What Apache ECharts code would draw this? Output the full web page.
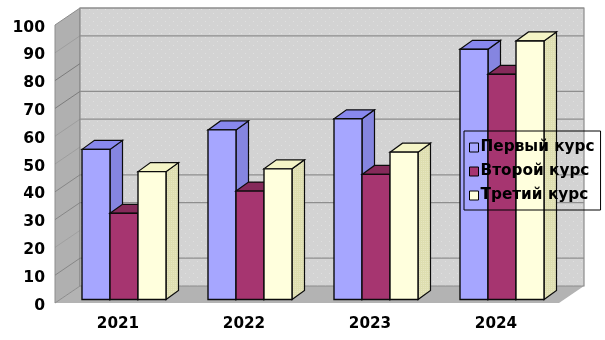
<!DOCTYPE html>
<html><head><meta charset="utf-8">
<style>html,body{margin:0;padding:0;background:#fff}#c{width:605px;height:340px}</style>
<script src="https://cdn.jsdelivr.net/npm/echarts@6/dist/echarts.min.js"></script>
</head><body><div id="c"></div>
<script>
const categories = ['2021','2022','2023','2024'];
const seriesNames = ['Первый курс','Второй курс','Третий курс'];
const first = [54,61,65,90];
const second = [31,39,45,81];
const third = [46,47,53,93];
const backLines = [100,90,70,60,40,30,10];
const sideLines = [[90,0.35],[80,1],[70,1],[60,0.35],[50,0.35],[40,0.8],[30,0.8],[20,0.3],[10,0.8]];
const fills = [
 {front:'#a6a6ff',side:'#8585e0',top:'#8888ee'},
 {front:'#a63570',side:'#852a5a',top:'#852a5a'},
 {front:'#ffffdd',side:'#dedeb0',top:'#f4f4c6'}
];

function pattern(bg,dot,step){
  const c=document.createElement('canvas');c.width=c.height=step;
  const g=c.getContext('2d');g.fillStyle=bg;g.fillRect(0,0,step,step);
  g.fillStyle=dot;g.fillRect(1,1,1,1);g.fillRect(1+step/2,1+step/2,1,1);
  return {image:c,repeat:'repeat'};
}
const wallFill=pattern('#d3d3d3','#e0e0e0',8);
const sideHatch=pattern('#dedeb0','#e6e6c0',2);
const DX=25,DY=17,BX=12.5,BY=9,INX=6,INY=3.5;

function poly(points,fill,stroke,lw,opacity){
  return {type:'polygon',shape:{points},style:{fill,stroke,lineWidth:lw,opacity:opacity==null?1:opacity}};
}
function walls(p,api){
  const band=api.size([1,0])[0];
  const L=api.coord([0,0])[0]-band/2,R=api.coord([3,0])[0]+band/2;
  const y0=api.coord([0,0])[1],y1=api.coord([0,100])[1];
  return {type:'group',children:[
    poly([[L,y0],[L+DX,y0-DY],[R+DX,y0-DY],[R,y0]],'#b3b3b3',null,0),
    poly([[L,y1],[L+DX,y1-DY],[L+DX,y0-DY],[L,y0]],'#b0b0b0','#8c8c8c',1),
    poly([[L+DX,y1-DY],[R+DX,y1-DY],[R+DX,y0-DY],[L+DX,y0-DY]],wallFill,'#8c8c8c',1.2)
  ]};
}
function backGrid(p,api){
  const band=api.size([1,0])[0];
  const L=api.coord([0,0])[0]-band/2,R=api.coord([3,0])[0]+band/2;
  const y=api.coord([0,api.value(0)])[1]-DY;
  return {type:'line',shape:{x1:L+DX,y1:y,x2:R+DX,y2:y},style:{stroke:'#8e8e8e',lineWidth:1.2}};
}
function sideGrid(p,api){
  const band=api.size([1,0])[0];
  const L=api.coord([0,0])[0]-band/2;
  const y=api.coord([0,api.value(0)])[1];
  return {type:'line',shape:{x1:L,y1:y,x2:L+DX,y2:y-DY},style:{stroke:'#7c7c7c',lineWidth:1,opacity:api.value(1)}};
}
function bar(idx){
  return function(p,api){
    const i=api.value(0),v=api.value(1);
    const band=api.size([1,0])[0],w=band*2/9;
    const c=api.coord([i,v]),b=api.coord([i,0]);
    const x=c[0]-1.5*w+idx*w+INX,yt=c[1]-INY,yb=b[1]-INY;
    const f=fills[idx],sc='#0c0c0c';
    const sideFill=idx===2?sideHatch:f.side;
    return {type:'group',children:[
      poly([[x+w,yt],[x+w+BX,yt-BY],[x+w+BX,yb-BY],[x+w,yb]],sideFill,sc,1.2),
      poly([[x,yt],[x+BX,yt-BY],[x+w+BX,yt-BY],[x+w,yt]],f.top,sc,1.2),
      poly([[x,yt],[x+w,yt],[x+w,yb],[x,yb]],f.front,sc,1.4)
    ]};
  };
}
const values=[first,second,third];
const chart=echarts.init(document.getElementById('c'),null,{renderer:'canvas'});
chart.setOption({
  animation:false,
  backgroundColor:'#fff',
  textStyle:{fontFamily:'DejaVu Sans'},
  grid:{left:55,right:46,top:25,bottom:37},
  legend:{
    data:seriesNames.map(n=>({name:n,icon:'rect'})),
    orient:'vertical',left:464,top:131,
    borderColor:'#000',borderWidth:1,backgroundColor:'transparent',
    padding:[8,6,6,5],itemWidth:9,itemHeight:9,itemGap:7,
    selectedMode:false,
    itemStyle:{borderColor:'#000',borderWidth:1},
    textStyle:{fontFamily:'DejaVu Sans',fontWeight:'bold',fontSize:15.3,color:'#000',padding:[0,0,0,-3],lineHeight:17},
    z:20
  },
  xAxis:{type:'category',data:categories,
    axisLine:{show:false},axisTick:{show:false},splitLine:{show:false},
    axisLabel:{margin:14,fontSize:15.2,fontWeight:'bold',color:'#000',fontFamily:'DejaVu Sans'}},
  yAxis:{type:'value',min:0,max:100,interval:10,
    axisLine:{show:false},axisTick:{show:false},splitLine:{show:false},
    axisLabel:{margin:10,color:'#000',fontFamily:'DejaVu Sans',
      formatter:'{a|{value}}',
      rich:{a:{fontSize:15.6,fontWeight:'bold',color:'#000',fontFamily:'DejaVu Sans',padding:[5,0,0,0]}}}},
  series:[
    {type:'custom',name:'walls',silent:true,clip:false,z:1,data:[[0,0]],renderItem:walls,encode:{x:0,y:1}},
    {type:'custom',name:'back',silent:true,clip:false,z:2,data:backLines.map(v=>[v]),renderItem:backGrid,encode:{y:0}},
    {type:'custom',name:'side',silent:true,clip:false,z:2,data:sideLines,renderItem:sideGrid,encode:{y:0}},
    ...seriesNames.map((n,k)=>({
      type:'custom',name:n,clip:false,z:3+k,
      itemStyle:{color:fills[k].front,borderColor:'#000',borderWidth:1},
      data:categories.map((c,i)=>[i,values[k][i]]),
      encode:{x:0,y:1},renderItem:bar(k)
    }))
  ]
});
</script></body></html>
